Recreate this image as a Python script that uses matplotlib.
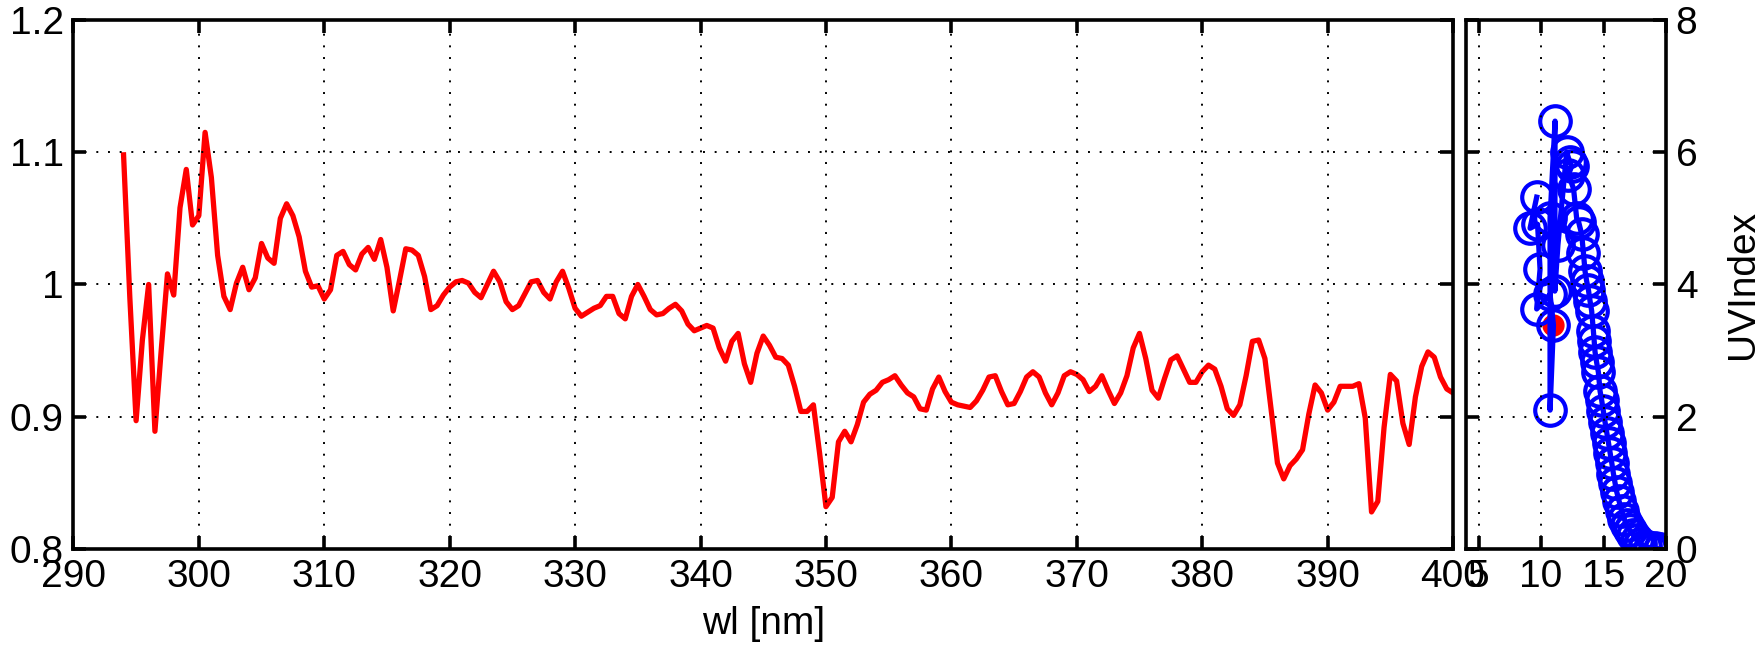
import numpy as np
import matplotlib.pyplot as plt

plt.rcParams['font.family'] = ['Liberation Sans', 'DejaVu Sans']

# spectral ratio (left panel), 0.5 nm steps from 294 to 400 nm
wl = np.arange(294, 400.5, 0.5)
ratio = [
    1.098, 0.990, 0.897, 0.958, 1.000, 0.889, 0.950, 1.008, 0.992, 1.058,
    1.087, 1.045, 1.052, 1.115, 1.081, 1.022, 0.991, 0.981, 1.001, 1.013,
    0.996, 1.005, 1.031, 1.020, 1.016, 1.050, 1.061, 1.052, 1.036, 1.010,
    0.998, 0.999, 0.989, 0.996, 1.022, 1.025, 1.015, 1.011, 1.023, 1.028,
    1.019, 1.034, 1.013, 0.980, 1.003, 1.027, 1.026, 1.022, 1.006, 0.981,
    0.984, 0.992, 0.998, 1.002, 1.003, 1.001, 0.994, 0.990, 1.000, 1.010,
    1.002, 0.987, 0.981, 0.984, 0.993, 1.002, 1.003, 0.994, 0.989, 1.002,
    1.010, 0.997, 0.982, 0.976, 0.979, 0.982, 0.984, 0.991, 0.991, 0.978,
    0.974, 0.991, 1.000, 0.991, 0.981, 0.977, 0.978, 0.982, 0.985, 0.980,
    0.970, 0.965, 0.967, 0.969, 0.967, 0.952, 0.942, 0.957, 0.963, 0.940,
    0.926, 0.948, 0.961, 0.954, 0.945, 0.944, 0.939, 0.923, 0.904, 0.904,
    0.909, 0.872, 0.832, 0.839, 0.881, 0.889, 0.881, 0.894, 0.911, 0.917,
    0.920, 0.926, 0.928, 0.931, 0.924, 0.918, 0.915, 0.906, 0.905, 0.921,
    0.930, 0.919, 0.911, 0.909, 0.908, 0.907, 0.912, 0.920, 0.930, 0.931,
    0.919, 0.909, 0.910, 0.919, 0.930, 0.934, 0.930, 0.918, 0.909, 0.918,
    0.931, 0.934, 0.932, 0.928, 0.919, 0.923, 0.931, 0.920, 0.910, 0.918,
    0.931, 0.952, 0.963, 0.944, 0.920, 0.914, 0.929, 0.943, 0.946, 0.936,
    0.926, 0.926, 0.934, 0.939, 0.936, 0.923, 0.906, 0.901, 0.909, 0.931,
    0.957, 0.958, 0.944, 0.905, 0.865, 0.853, 0.863, 0.868, 0.875, 0.902,
    0.924, 0.918, 0.905, 0.911, 0.923, 0.923, 0.923, 0.925, 0.899, 0.828,
    0.836, 0.892, 0.932, 0.927, 0.895, 0.879, 0.915, 0.938, 0.949, 0.945,
    0.930, 0.921, 0.918,
]

# UV index over the day (right panel)
hour = [9.65, 9.12, 9.72, 9.92, 9.65, 10.72, 10.99, 10.72, 10.72, 11.12,
        11.10, 11.35, 12.05, 12.30, 12.45, 12.19, 12.60, 12.85, 13.00, 13.25,
        13.39, 13.52, 13.65, 13.79, 13.92, 14.05, 14.19, 14.25, 14.32, 14.45,
        14.59, 14.72, 14.85, 14.99, 15.12, 15.26, 15.40, 15.53, 15.66, 15.79,
        15.92, 16.06, 16.25, 16.45, 16.65, 16.85, 17.10, 17.39, 17.65, 17.92,
        18.30, 18.72, 19.10, 19.52]
uvi = [5.32, 4.85, 4.91, 4.23, 3.63, 3.85, 3.39, 2.10, 5.00, 6.47,
       3.90, 4.60, 6.00, 5.85, 5.79, 5.66, 5.45, 5.00, 4.95, 4.76,
       4.48, 4.20, 4.05, 3.92, 3.75, 3.60, 3.29, 3.15, 2.98, 2.82,
       2.67, 2.39, 2.25, 2.08, 1.92, 1.76, 1.60, 1.45, 1.30, 1.14,
       1.00, 0.86, 0.72, 0.58, 0.46, 0.36, 0.28, 0.21, 0.14, 0.08,
       0.04, 0.02, 0.01, 0.00]
now_hour = 10.99
now_uvi = 3.39

fig = plt.figure(figsize=(17.6, 6.46), dpi=100)
ax1 = fig.add_axes([0.0417, 0.1502, 0.7839, 0.8189])
ax2 = fig.add_axes([0.8330, 0.1502, 0.1136, 0.8189])

grid_style = dict(color='black', linestyle=(0, (1, 5)), linewidth=1.4)

ax1.plot(wl, ratio, color='red', linewidth=3.8)
ax1.set_xlim(290, 400)
ax1.set_ylim(0.8, 1.2)
ax1.set_xticks(range(290, 401, 10))
ax1.set_yticks([0.8, 0.9, 1.0, 1.1, 1.2])
ax1.set_yticklabels(['0.8', '0.9', '1', '1.1', '1.2'])
ax1.set_xlabel('wl [nm]', fontsize=28, labelpad=8)

ax2.plot(now_hour, now_uvi, 'o', color='red', markersize=15, zorder=1)
ax2.plot(hour, uvi, '-o', color='blue', linewidth=3.8, markersize=22,
         markerfacecolor='none', markeredgewidth=3, zorder=2)
ax2.set_xlim(4, 20)
ax2.set_ylim(0, 8)
ax2.set_xticks([5, 10, 15, 20])
ax2.set_yticks([0, 2, 4, 6, 8])
ax2.yaxis.set_label_position('right')
ax2.set_ylabel('UVIndex', fontsize=28, labelpad=20)

for ax in [ax1, ax2]:
    ax.grid(True, **grid_style)
    ax.set_axisbelow(False)
    for s in ax.spines.values():
        s.set_linewidth(2.6)
    ax.tick_params(direction='in', length=9.5, width=2.6, top=True, right=True,
                   labelsize=28, pad=7)
ax2.tick_params(labelleft=False, labelright=True)

fig.savefig('out.png', dpi=100)
